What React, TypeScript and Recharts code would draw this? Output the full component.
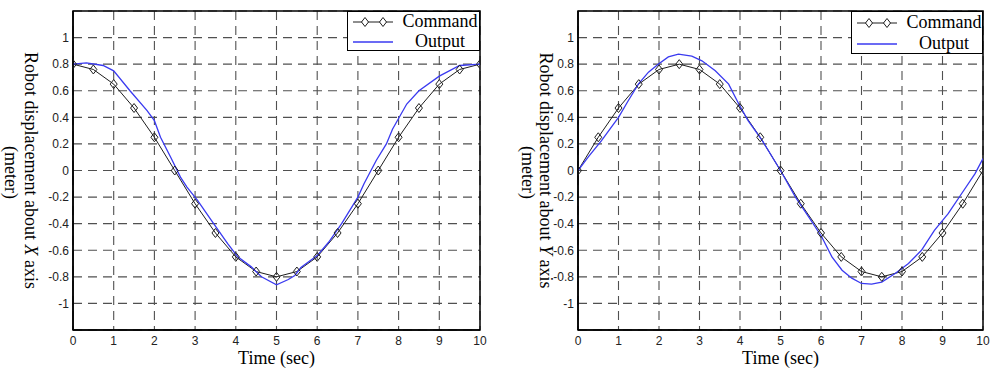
import React from 'react';
import { LineChart, Line, XAxis, YAxis, CartesianGrid, ReferenceArea, Legend, Label } from 'recharts';

// Commanded trajectory, sampled every 0.5 s
const commandTime = [0, 0.5, 1, 1.5, 2, 2.5, 3, 3.5, 4, 4.5, 5, 5.5, 6, 6.5, 7, 7.5, 8, 8.5, 9, 9.5, 10];
const commandX = [0.8, 0.76, 0.65, 0.47, 0.25, 0, -0.25, -0.47, -0.65, -0.76, -0.8, -0.76, -0.65, -0.47, -0.25, 0, 0.25, 0.47, 0.65, 0.76, 0.8];
const commandY = [0, 0.25, 0.47, 0.65, 0.76, 0.8, 0.76, 0.65, 0.47, 0.25, 0, -0.25, -0.47, -0.65, -0.76, -0.8, -0.76, -0.65, -0.47, -0.25, 0];

// Measured robot output along X
const outputXTime = [0, 0.33, 0.74, 1, 1.4, 1.82, 2, 2.15, 2.4, 2.64, 2.8, 3.06, 3.4, 3.8, 4.05, 4.38, 4.63, 5, 5.29, 5.45, 5.6, 6, 6.28, 6.6, 7, 7.15, 7.45, 7.7, 7.85, 8.2, 8.5, 9, 9.5, 10];
const outputX = [0.8, 0.81, 0.79, 0.75, 0.6, 0.45, 0.375, 0.25, 0.1, -0.05, -0.125, -0.225, -0.375, -0.55, -0.65, -0.725, -0.8, -0.86, -0.82, -0.79, -0.73, -0.64, -0.54, -0.4, -0.2, -0.1, 0.075, 0.2, 0.31, 0.5, 0.6, 0.71, 0.79, 0.8];

// Measured robot output along Y
const outputYTime = [0, 0.25, 0.58, 1, 1.24, 1.49, 1.74, 1.98, 2.23, 2.48, 2.81, 3.06, 3.39, 3.72, 3.97, 4.2, 4.55, 5, 5.37, 5.7, 6.02, 6.27, 6.52, 6.76, 7, 7.25, 7.5, 7.83, 8.16, 8.48, 8.8, 9.14, 9.47, 9.8, 10];
const outputY = [0, 0.1, 0.225, 0.4, 0.525, 0.65, 0.74, 0.8, 0.855, 0.875, 0.86, 0.825, 0.75, 0.65, 0.5, 0.375, 0.225, 0, -0.2, -0.35, -0.5, -0.65, -0.75, -0.81, -0.85, -0.855, -0.84, -0.775, -0.7, -0.6, -0.45, -0.325, -0.175, -0.025, 0.09];

const timeTicks = [0, 1, 2, 3, 4, 5, 6, 7, 8, 9, 10];
const displacementTicks = [-1, -0.8, -0.6, -0.4, -0.2, 0, 0.2, 0.4, 0.6, 0.8, 1];

const CMD_COLOR = '#1e1e1e';
const OUT_COLOR = '#3a3af0';
const GRID_COLOR = '#505050';
const SANS = '"Liberation Sans", Arial, sans-serif';
const SERIF = '"Liberation Serif", "Times New Roman", serif';

const toPoints = (ts: number[], vs: number[]) => ts.map((t, i) => ({ t, v: vs[i] }));

const diamondPath = (cx: number, cy: number) =>
  `M${cx},${cy - 4.5}L${cx + 3.5},${cy}L${cx},${cy + 4.5}L${cx - 3.5},${cy}Z`;

const renderDiamond = (props: any) => {
  const { cx, cy, index } = props;
  if (cx == null || cy == null) return <g key={`d-${index}`} />;
  return <path key={`d-${index}`} d={diamondPath(cx, cy)} fill="none" stroke={CMD_COLOR} strokeWidth={1} />;
};

const formatTick = (v: number) => String(Number(v.toFixed(1)));

interface LegendBox {
  left: number;
  width: number;
  height: number;
  icon: [number, number];
  base: [number, number];
}

const makeLegend = (box: LegendBox) => (props: any) => {
  const payload: any[] = props.payload || [];
  const textX = 93;
  return (
    <svg width={box.width} height={box.height} style={{ display: 'block' }}>
      <rect x={0.5} y={0.5} width={box.width - 1} height={box.height - 1} fill="#fff" stroke="#000" strokeWidth={1} />
      {payload.map((entry, i) => {
        const iy = box.icon[i];
        const isCommand = entry.value === 'Command';
        return (
          <g key={entry.value}>
            <line x1={6} x2={46} y1={iy} y2={iy} stroke={entry.color} strokeWidth={isCommand ? 1 : 1.3} />
            {isCommand && (
              <>
                <path d={diamondPath(18, iy)} fill="#fff" stroke={CMD_COLOR} />
                <path d={diamondPath(36, iy)} fill="#fff" stroke={CMD_COLOR} />
              </>
            )}
            <text x={textX} y={box.base[i]} textAnchor="middle" fontFamily={SERIF} fontSize={18} fill="#000">
              {entry.value}
            </text>
          </g>
        );
      })}
    </svg>
  );
};

interface PanelProps {
  axisName: string;
  command: number[];
  outTime: number[];
  out: number[];
  marginLeft: number;
  marginRight: number;
  labelOffsets: [number, number];
  legend: LegendBox;
}

function Panel({ axisName, command, outTime, out, marginLeft, marginRight, labelOffsets, legend }: PanelProps) {
  const commandData = toPoints(commandTime, command);
  const outputData = toPoints(outTime, out);
  return (
    <LineChart width={495} height={369} margin={{ top: 11, right: marginRight, bottom: 19, left: marginLeft }}>
      <CartesianGrid stroke={GRID_COLOR} strokeDasharray="9 6" strokeWidth={1.1} />
      <XAxis
        type="number"
        dataKey="t"
        domain={[0, 10]}
        ticks={timeTicks}
        allowDataOverflow
        height={20}
        tickLine={false}
        tickSize={0}
        tickMargin={6}
        axisLine={{ stroke: '#000', strokeWidth: 1.5 }}
        tick={{ fontFamily: SANS, fontSize: 12, fill: '#222' }}
      >
        <Label
          content={(p: any) => {
            const vb = p.viewBox;
            return (
              <text x={vb.x + vb.width / 2} y={vb.y + 34} textAnchor="middle" fontFamily={SERIF} fontSize={18} fill="#000">
                Time (sec)
              </text>
            );
          }}
        />
      </XAxis>
      <YAxis
        type="number"
        domain={[-1.2, 1.2]}
        ticks={displacementTicks}
        allowDataOverflow
        width={30}
        tickLine={false}
        tickSize={0}
        tickMargin={4}
        tickFormatter={formatTick}
        axisLine={{ stroke: '#000', strokeWidth: 1.5 }}
        tick={{ fontFamily: SANS, fontSize: 12, fill: '#222' }}
      >
        <Label
          content={(p: any) => {
            const vb = p.viewBox;
            const right = vb.x + vb.width;
            const cy = vb.y + vb.height / 2;
            const x1 = right - labelOffsets[0];
            const x2 = right - labelOffsets[1];
            return (
              <g fontFamily={SERIF} fontSize={18} fill="#000">
                <text x={x1} y={cy} textAnchor="middle" dominantBaseline="central" transform={`rotate(90, ${x1}, ${cy})`}>
                  Robot displacement about <tspan fontStyle="italic">{axisName}</tspan> axis
                </text>
                <text x={x2} y={cy + 2} textAnchor="middle" dominantBaseline="central" transform={`rotate(90, ${x2}, ${cy + 2})`}>
                  (meter)
                </text>
              </g>
            );
          }}
        />
      </YAxis>
      <ReferenceArea x1={0} x2={10} y1={-1.2} y2={1.2} fill="none" stroke="#000" strokeWidth={1.5} ifOverflow="visible" />
      <Line
        data={commandData}
        dataKey="v"
        name="Command"
        type="linear"
        stroke={CMD_COLOR}
        strokeWidth={1}
        dot={renderDiamond}
        activeDot={false}
        isAnimationActive={false}
      />
      <Line
        data={outputData}
        dataKey="v"
        name="Output"
        type="linear"
        stroke={OUT_COLOR}
        strokeWidth={1.3}
        dot={false}
        activeDot={false}
        isAnimationActive={false}
      />
      <Legend
        layout="vertical"
        align="center"
        verticalAlign="middle"
        wrapperStyle={{ left: legend.left, top: 11, width: legend.width, height: legend.height }}
        content={makeLegend(legend)}
      />
    </LineChart>
  );
}

export default function App() {
  return (
    <div style={{ position: 'absolute', left: 0, top: 0, width: 990, height: 369, background: '#fff', display: 'flex' }}>
      <Panel
        axisName="X"
        command={commandX}
        outTime={outputXTime}
        out={outputX}
        marginLeft={43}
        marginRight={15}
        labelOffsets={[42, 62]}
        legend={{ left: 347, width: 133, height: 40, icon: [11, 31], base: [16, 36] }}
      />
      <Panel
        axisName="Y"
        command={commandY}
        outTime={outputYTime}
        out={outputY}
        marginLeft={53}
        marginRight={7}
        labelOffsets={[32, 50]}
        legend={{ left: 356, width: 132, height: 43, icon: [12, 33], base: [17, 38] }}
      />
    </div>
  );
}
